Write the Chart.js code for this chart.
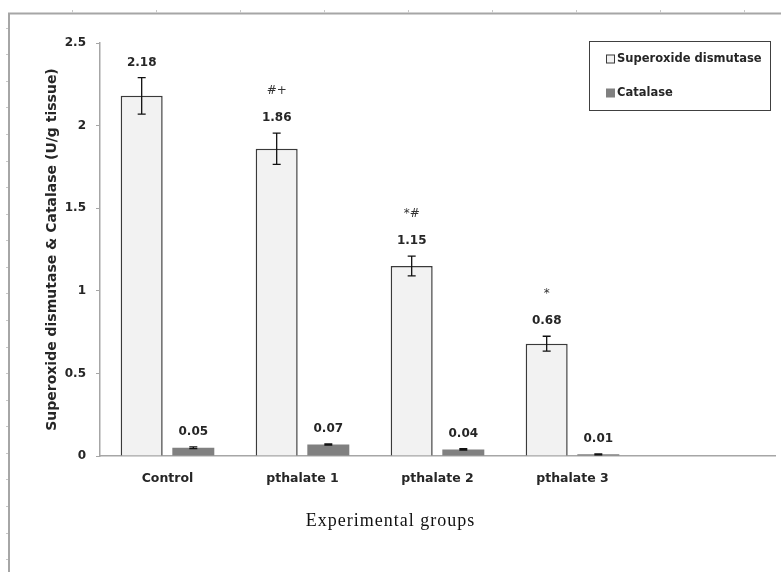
<!DOCTYPE html>
<html>
<head>
<meta charset="utf-8">
<script src="https://cdn.jsdelivr.net/npm/chart.js@4.4.1/dist/chart.umd.min.js"></script>
<style>
  html, body { margin: 0; padding: 0; background: #fff; }
  canvas { display: block; }
</style>
</head>
<body>
<canvas id="chart" width="781" height="572"></canvas>
<script>
// Enzyme activity per experimental group (U/g tissue), mean and error
const groups = ['Control', 'pthalate 1', 'pthalate 2', 'pthalate 3', ''];
const sodValues = [2.18, 1.86, 1.15, 0.68, null];
const sodErrors = [0.11, 0.095, 0.06, 0.045, null];
const catalaseValues = [0.05, 0.07, 0.04, 0.01, null];
const catalaseErrors = [0.005, 0.004, 0.004, 0.003, null];
const sodSignificance = ['', '#+', '*#', '*', ''];
const seriesNames = ['Superoxide dismutase', 'Catalase'];
const yAxisTitle = 'Superoxide dismutase & Catalase (U/g tissue)';
const xAxisTitle = 'Experimental groups';
const yMin = 0, yMax = 2.5, yStep = 0.5;

const SANS = '"DejaVu Sans", Arial, sans-serif';
const SERIF = '"Liberation Serif", "Times New Roman", serif';
const TEXT = '#262626';

// page frame with small ruler marks
const framePlugin = {
  id: 'frame',
  beforeDraw(chart) {
    const ctx = chart.ctx;
    ctx.save();
    ctx.fillStyle = '#fff';
    ctx.fillRect(0, 0, chart.width, chart.height);
    ctx.strokeStyle = '#a6a6a6';
    ctx.lineWidth = 2;
    ctx.beginPath();
    ctx.moveTo(9, chart.height);
    ctx.lineTo(9, 13.5);
    ctx.lineTo(chart.width, 13.5);
    ctx.stroke();
    ctx.strokeStyle = '#c8c8c8';
    ctx.lineWidth = 1;
    ctx.beginPath();
    for (let x = 72; x < chart.width; x += 84) {
      ctx.moveTo(x + 0.5, 10);
      ctx.lineTo(x + 0.5, 12.5);
    }
    for (let y = 27.7; y < chart.height; y += 26.57) {
      ctx.moveTo(6, Math.round(y) + 0.5);
      ctx.lineTo(8, Math.round(y) + 0.5);
    }
    ctx.stroke();
    ctx.restore();
  }
};

// error bars, value labels and significance marks
const annotatePlugin = {
  id: 'annotate',
  afterDatasetsDraw(chart) {
    const ctx = chart.ctx;
    const y = chart.scales.y;
    ctx.save();
    chart.data.datasets.forEach((ds, i) => {
      const meta = chart.getDatasetMeta(i);
      meta.data.forEach((bar, j) => {
        const v = ds.data[j];
        if (v === null || v === undefined) return;
        const e = ds.errors[j] || 0;
        const yTop = y.getPixelForValue(v + e);
        const yBot = y.getPixelForValue(v - e);
        ctx.strokeStyle = '#111';
        ctx.lineWidth = 1.3;
        ctx.beginPath();
        ctx.moveTo(bar.x, yTop);
        ctx.lineTo(bar.x, yBot);
        ctx.moveTo(bar.x - 4, yTop);
        ctx.lineTo(bar.x + 4, yTop);
        ctx.moveTo(bar.x - 4, yBot);
        ctx.lineTo(bar.x + 4, yBot);
        ctx.stroke();

        ctx.fillStyle = TEXT;
        ctx.textAlign = 'center';
        ctx.textBaseline = 'middle';
        ctx.font = 'bold 12px ' + SANS;
        const labelY = yTop - 15;
        ctx.fillText(v.toFixed(2), bar.x, labelY);
        if (ds.marks && ds.marks[j]) {
          ctx.font = '12px ' + SANS;
          ctx.fillStyle = '#333';
          ctx.fillText(ds.marks[j], bar.x, labelY - 27);
        }
      });
    });
    // x axis title, centred on the page
    ctx.font = '18px ' + SERIF;
    ctx.letterSpacing = '1px';
    ctx.fillStyle = '#111';
    ctx.textAlign = 'center';
    ctx.textBaseline = 'middle';
    ctx.fillText(xAxisTitle, chart.width / 2, 521);
    ctx.restore();
  }
};

// boxed legend at top right
const boxLegendPlugin = {
  id: 'boxLegend',
  afterDraw(chart) {
    const ctx = chart.ctx;
    ctx.save();
    ctx.strokeStyle = '#404040';
    ctx.lineWidth = 1;
    ctx.strokeRect(589.5, 41.5, 181, 69);
    const rows = [59, 93];
    chart.data.datasets.forEach((ds, i) => {
      const cy = rows[i];
      ctx.fillStyle = ds.backgroundColor;
      ctx.fillRect(606, cy - 4.5, 9, 9);
      if (ds.borderWidth) {
        ctx.strokeStyle = ds.borderColor;
        ctx.strokeRect(606.5, cy - 4, 8, 8);
      }
      ctx.fillStyle = TEXT;
      ctx.font = 'bold 11.5px ' + SANS;
      ctx.textAlign = 'left';
      ctx.textBaseline = 'middle';
      ctx.fillText(ds.label, 617, cy);
    });
    ctx.restore();
  }
};

new Chart(document.getElementById('chart'), {
  type: 'bar',
  data: {
    labels: groups,
    datasets: [
      {
        label: seriesNames[0],
        data: sodValues,
        errors: sodErrors,
        marks: sodSignificance,
        backgroundColor: '#f2f2f2',
        borderColor: '#3a3a3a',
        borderWidth: 1.5
      },
      {
        label: seriesNames[1],
        data: catalaseValues,
        errors: catalaseErrors,
        backgroundColor: '#808080',
        borderWidth: 0
      }
    ]
  },
  options: {
    responsive: false,
    animation: false,
    events: [],
    categoryPercentage: 0.765,
    barPercentage: 0.813,
    layout: { padding: { left: 38, top: 43, right: 6, bottom: 36 } },
    plugins: {
      legend: { display: false },
      tooltip: { enabled: false },
      title: { display: false }
    },
    scales: {
      x: {
        grid: { display: false, drawTicks: false },
        border: { display: true, color: '#a6a6a6', width: 1.5 },
        ticks: {
          color: TEXT,
          padding: 15,
          maxRotation: 0,
          autoSkip: false,
          font: { family: SANS, size: 12.5, weight: 'bold' }
        },
        afterFit(scale) { scale.height = 80; }
      },
      y: {
        min: yMin,
        max: yMax,
        border: { display: true, color: '#a6a6a6', width: 1.5 },
        grid: { drawOnChartArea: false, drawTicks: true, tickLength: 4, color: '#a6a6a6' },
        ticks: {
          stepSize: yStep,
          padding: 10,
          color: TEXT,
          font: { family: SANS, size: 12, weight: 'bold' },
          callback: (value) => String(Number(value))
        },
        title: {
          display: true,
          text: yAxisTitle,
          color: TEXT,
          padding: { top: 6, bottom: 0 },
          font: { family: SANS, size: 14, weight: 'bold' }
        },
        afterFit(scale) { scale.width = 62; }
      }
    }
  },
  plugins: [framePlugin, annotatePlugin, boxLegendPlugin]
});
</script>
</body>
</html>
